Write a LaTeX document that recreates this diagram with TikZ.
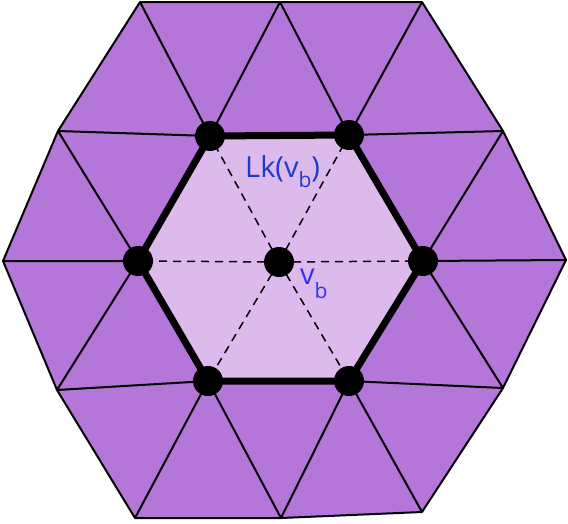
\documentclass[tikz,border=0pt]{standalone}
\usepackage{fontspec}
\setmainfont{Open Sans}
\definecolor{ringpurple}{RGB}{180,118,216}
\definecolor{linkfill}{RGB}{220,186,236}
\definecolor{lkblue}{RGB}{25,60,205}
\definecolor{vbblue}{RGB}{50,50,240}
\tikzset{
  thinedge/.style={draw=black,line width=2pt,line join=round},
  spoke/.style={draw=black,line width=1.5pt,dash pattern=on 8pt off 6pt},
  linkedge/.style={draw=black,line width=7pt,line join=round},
  vdot/.style={circle,fill=black,inner sep=0pt,minimum size=30pt},
  lbl/.style={inner sep=0pt,anchor=base west,font=\fontsize{29}{29}\selectfont},
}
\begin{document}
\begin{tikzpicture}[x=1pt,y=-1pt]
\useasboundingbox (0,0) rectangle (568,523);
% outer boundary
\coordinate (P1) at (140,2);
\coordinate (P2) at (280,2);
\coordinate (P3) at (422,2);
\coordinate (P4) at (503,131);
\coordinate (P5) at (566,260);
\coordinate (P6) at (503,388);
\coordinate (P7) at (422,512);
\coordinate (P8) at (281,518);
\coordinate (P9) at (135,518);
\coordinate (P10) at (57,390);
\coordinate (P11) at (3,261);
\coordinate (P12) at (58,131);
% link vertices
\coordinate (I1) at (210,136);
\coordinate (I2) at (349,135);
\coordinate (I3) at (423,261);
\coordinate (I4) at (349,381);
\coordinate (I5) at (208,381);
\coordinate (I6) at (138,261);
\coordinate (C) at (279,262);
% fills
\fill[ringpurple] (P1)--(P2)--(P3)--(P4)--(P5)--(P6)--(P7)--(P8)--(P9)--(P10)--(P11)--(P12)--cycle;
\fill[linkfill] (I1)--(I2)--(I3)--(I4)--(I5)--(I6)--cycle;
% outer boundary
\draw[thinedge] (P1)--(P2)--(P3)--(P4)--(P5)--(P6)--(P7)--(P8)--(P9)--(P10)--(P11)--(P12)--cycle;
% ring edges
\draw[thinedge] (P1)--(I1) (P2)--(I1) (P2)--(I2) (P3)--(I2)
  (P4)--(I2) (P4)--(I3) (P5)--(I3) (P6)--(I3) (P6)--(I4) (P7)--(I4)
  (P8)--(I4) (P8)--(I5) (P9)--(I5) (P10)--(I5) (P10)--(I6) (P11)--(I6)
  (P12)--(I6) (P12)--(I1);
% dashed spokes
\foreach \i in {1,...,6} \draw[spoke] (C)--(I\i);
% link
\draw[linkedge] (I1)--(I2)--(I3)--(I4)--(I5)--(I6)--cycle;
% dots
\node[vdot] (d1) at (I1) {};
\node[vdot] (d2) at (I2) {};
\node[vdot] (d3) at (I3) {};
\node[vdot] (d4) at (I4) {};
\node[vdot] (d5) at (I5) {};
\node[vdot] (d6) at (I6) {};
\node[vdot] (dc) at (C) {};
% labels
\node[lbl,text=lkblue] (lk) at (245,177) {Lk(v\raisebox{-10pt}{\fontsize{21}{21}\selectfont b})};
\node[lbl,text=vbblue] (vb) at (300,284) {v\raisebox{-14pt}{\fontsize{21}{21}\selectfont b}};
\end{tikzpicture}
\end{document}
